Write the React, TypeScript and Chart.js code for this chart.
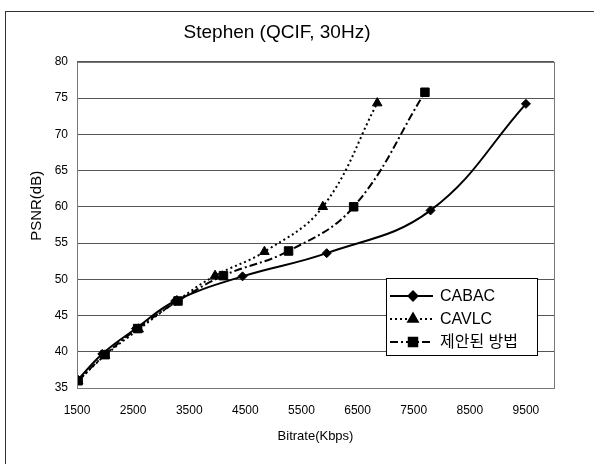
import React, { useEffect, useRef } from "react";
import { Chart, registerables } from "chart.js";
import { drawPoint } from "chart.js/helpers";

Chart.register(...registerables);

const titleText = "Stephen (QCIF, 30Hz)";
const xTitle = "Bitrate(Kbps)";
const yTitle = "PSNR(dB)";
const xTicks = [1500, 2500, 3500, 4500, 5500, 6500, 7500, 8500, 9500];
const yTicks = [35, 40, 45, 50, 55, 60, 65, 70, 75, 80];

const cabacX = [1500, 1950, 2550, 3250, 4450, 5950, 7800, 9500];
const cabacY = [36, 39.7, 43.2, 47, 50.4, 53.6, 59.5, 74.2];
const cavlcX = [1520, 2000, 2600, 3280, 3960, 4840, 5880, 6850];
const cavlcY = [36, 39.5, 43.1, 47, 50.5, 53.8, 60, 74.3];
const propX = [1520, 2000, 2580, 3300, 4110, 5270, 6430, 7700];
const propY = [36, 39.6, 43.2, 47, 50.5, 53.9, 60, 75.8];

const seriesNames = ["CABAC", "CAVLC", "제안된 방법"];

const FONT = "'Liberation Sans', Arial, 'Noto Sans CJK KR', sans-serif";

const pts = (xs: number[], ys: number[]) => xs.map((x, i) => ({ x, y: ys[i] }));

const frameAndLegend = {
  id: "frameAndLegend",
  afterDatasetsDraw(chart: any) {
    const { ctx, chartArea } = chart;
    ctx.save();
    ctx.strokeStyle = "#777";
    ctx.lineWidth = 1;
    ctx.strokeRect(
      Math.round(chartArea.left) + 0.5,
      Math.round(chartArea.top) + 0.5,
      Math.round(chartArea.right - chartArea.left),
      Math.round(chartArea.bottom - chartArea.top)
    );
    // y axis title (placed like the original, above the axis centre)
    ctx.save();
    ctx.translate(37, chartArea.top + 144);
    ctx.rotate(-Math.PI / 2);
    ctx.fillStyle = "#000";
    ctx.font = `15px ${FONT}`;
    ctx.textAlign = "center";
    ctx.textBaseline = "middle";
    ctx.fillText(yTitle, 0, 0);
    ctx.restore();
    // legend box
    const x0 = Math.round(chartArea.right - 168);
    const y0 = Math.round(chartArea.top + 216);
    const w = 151;
    const h = 77;
    ctx.fillStyle = "#fff";
    ctx.fillRect(x0, y0, w, h);
    ctx.strokeStyle = "#000";
    ctx.strokeRect(x0 + 0.5, y0 + 0.5, w, h);
    chart.data.datasets.forEach((ds: any, i: number) => {
      const cy = y0 + 18 + i * 23;
      ctx.strokeStyle = "#000";
      ctx.lineWidth = 2;
      ctx.setLineDash(ds.borderDash || []);
      ctx.beginPath();
      ctx.moveTo(x0 + 4, cy);
      ctx.lineTo(x0 + 47, cy);
      ctx.stroke();
      ctx.setLineDash([]);
      ctx.fillStyle = "#000";
      drawPoint(ctx, { pointStyle: ds.pointStyle, radius: ds.pointRadius, borderWidth: 1, rotation: 0 }, x0 + 27, cy);
      ctx.fill();
      ctx.fillStyle = "#000";
      ctx.font = `16px ${FONT}`;
      ctx.textBaseline = "middle";
      ctx.textAlign = "left";
      ctx.fillText(ds.label, x0 + 54, cy + 1);
    });
    ctx.restore();
  },
};

export default function App() {
  const ref = useRef<HTMLCanvasElement | null>(null);
  useEffect(() => {
    if (!ref.current) return;
    const chart = new Chart(ref.current, {
      type: "scatter",
      data: {
        datasets: [
          {
            label: seriesNames[0],
            data: pts(cabacX, cabacY),
            showLine: true,
            borderColor: "#000",
            backgroundColor: "#000",
            borderWidth: 2,
            tension: 0.4,
            pointStyle: "rectRot",
            pointRadius: 4.5,
            pointBorderWidth: 1,
          },
          {
            label: seriesNames[1],
            data: pts(cavlcX, cavlcY),
            showLine: true,
            borderColor: "#000",
            backgroundColor: "#000",
            borderWidth: 2,
            borderDash: [2, 3],
            tension: 0.4,
            pointStyle: "triangle",
            pointRadius: 5.5,
            pointBorderWidth: 1,
          },
          {
            label: seriesNames[2],
            data: pts(propX, propY),
            showLine: true,
            borderColor: "#000",
            backgroundColor: "#000",
            borderWidth: 2,
            borderDash: [8, 3, 2, 3],
            tension: 0.4,
            pointStyle: "rect",
            pointRadius: 6,
            pointBorderWidth: 1,
          },
        ],
      },
      options: {
        animation: false,
        responsive: false,
        layout: { padding: { left: 0, right: 40, top: 0, bottom: 0 } },
        plugins: {
          legend: { display: false },
          tooltip: { enabled: false },
          title: {
            display: true,
            text: titleText,
            color: "#000",
            font: { family: FONT, size: 19, weight: "normal" },
            padding: { top: 21, bottom: 18 },
          },
        },
        scales: {
          x: {
            type: "linear",
            min: 1500,
            max: 10000,
            afterBuildTicks: (scale: any) => {
              scale.ticks = xTicks.map((v) => ({ value: v }));
            },
            afterFit: (scale: any) => {
              scale.height = 76;
            },
            grid: { drawOnChartArea: false, drawTicks: false },
            border: { display: false },
            ticks: {
              color: "#000",
              padding: 15,
              maxRotation: 0,
              font: { family: FONT, size: 12 },
              callback: (v: any) => String(v),
            },
            title: {
              display: true,
              text: xTitle,
              color: "#000",
              font: { family: FONT, size: 13 },
              padding: { top: 12, bottom: 20 },
            },
          },
          y: {
            type: "linear",
            min: 35,
            max: 80,
            afterBuildTicks: (scale: any) => {
              scale.ticks = yTicks.map((v) => ({ value: v }));
            },
            afterFit: (scale: any) => {
              scale.width = 77;
            },
            grid: { color: "#555", drawTicks: false, lineWidth: 1 },
            border: { display: false },
            ticks: {
              color: "#000",
              padding: 9,
              font: { family: FONT, size: 12 },
              callback: (v: any) => String(v),
            },
          },
        },
      },
      plugins: [frameAndLegend],
    });
    return () => chart.destroy();
  }, []);

  return (
    <div style={{ position: "fixed", left: 0, top: 0, width: 594, height: 464, background: "#fff", overflow: "hidden" }}>
      <canvas ref={ref} width={594} height={464} style={{ position: "absolute", left: 0, top: 0, width: 594, height: 464 }} />
      <div
        style={{
          position: "absolute",
          left: 5,
          top: 11,
          width: 620,
          height: 480,
          borderLeft: "1px solid #333",
          borderTop: "1px solid #333",
          pointerEvents: "none",
        }}
      />
    </div>
  );
}
